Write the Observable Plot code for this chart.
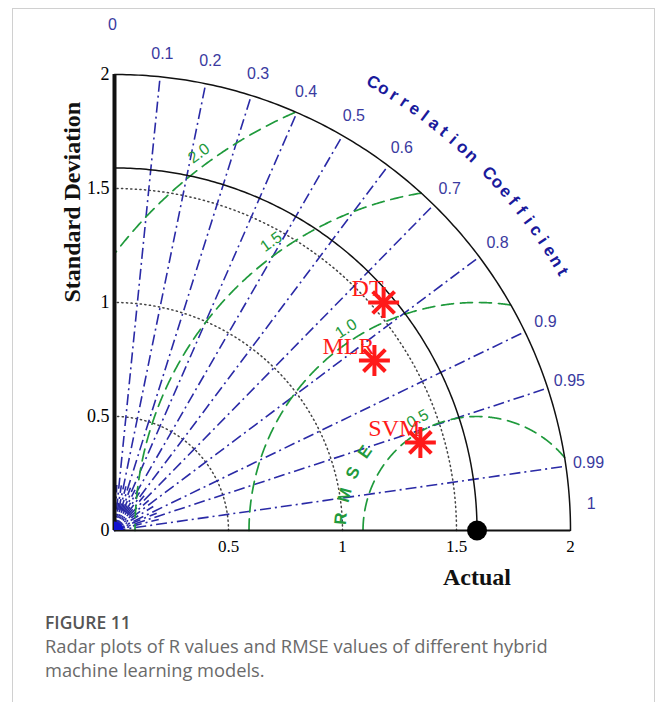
<!DOCTYPE html>
<html><head><meta charset="utf-8">
<script src="https://cdn.jsdelivr.net/npm/d3@7"></script>
<script src="https://cdn.jsdelivr.net/npm/@observablehq/plot@0.6"></script>
<style>
body{margin:0;background:#fff;width:656px;height:702px;overflow:hidden;position:relative;font-family:"Open Sans",sans-serif}
#frame{position:absolute;left:12px;top:8px;width:641px;height:720px;border:1.5px solid #d0d0d0;border-bottom:none;}
#chart{position:absolute;left:0;top:0}
#cap{position:absolute;left:45px;top:610px;width:600px;color:#6a6a6a;font-size:18.3px;line-height:24px}
#cap .fig{color:#555;font-weight:600;font-size:17.5px}
</style></head><body>
<div id="frame"></div>
<div id="chart"></div>
<div id="cap"><div class="fig">FIGURE 11</div><div>Radar plots of R values and RMSE values of different hybrid<br>machine learning models.</div></div>
<script>
// ---- data ----
const models = ["DT", "MLR", "SVM"];
const modelStd = [1.547, 1.362, 1.396];
const modelCorr = [0.763, 0.837, 0.961];
const refStd = 1.59;
const maxStd = 2;
const corrTicks = [0.1, 0.2, 0.3, 0.4, 0.5, 0.6, 0.7, 0.8, 0.9, 0.95, 0.99];
const corrTickLabels = ["0.1", "0.2", "0.3", "0.4", "0.5", "0.6", "0.7", "0.8", "0.9", "0.95", "0.99"];
const corrEnds = [0, 1];
const corrEndLabels = ["0", "1"];
const minorCorr = [0.05, 0.15, 0.25, 0.35, 0.45, 0.55, 0.65, 0.75, 0.85, 0.925, 0.97];
const stdTicks = [0, 0.5, 1, 1.5, 2];
const stdGrid = [0.5, 1, 1.5];
const rmseLevels = [0.5, 1.0, 1.5, 2.0];
const rmseLabels = ["0.5", "1.0", "1.5", "2.0"];
const corrTitle = "Correlation Coefficient";
const rmseTitle = "RMSE";

// ---- label placement (angles around the reference point, degrees) ----
const rmseLabelAngles = [118, 123, 125.5, 126.4];

// ---- geometry helpers ----
const rad = Math.PI / 180;
const sinOf = c => Math.sqrt(Math.max(0, 1 - c * c));
function arc(s) {
  return d3.range(0, 90.01, 0.5).map(a => ({s, x: s * Math.cos(a * rad), y: s * Math.sin(a * rad)}));
}
const stdArcPts = stdGrid.flatMap(arc);
const outerPts = arc(maxStd);
const refPts = arc(refStd);
const rmsePts = rmseLevels.flatMap(r => d3.range(0, 180.01, 0.2).map(a => ({r, x: refStd + r * Math.cos(a * rad), y: r * Math.sin(a * rad)}))
  .filter(p => p.x >= 0 && p.x * p.x + p.y * p.y <= maxStd * maxStd));
const rmseLab = rmseLevels.map((r, i) => { const a = rmseLabelAngles[i]; return {t: rmseLabels[i], x: refStd + (r + 0.055) * Math.cos(a * rad), y: (r + 0.055) * Math.sin(a * rad), rot: 90 - a}; });
const rmseLetters = rmseTitle.split("").map((ch, i) => { const a = 175 - i * 10; return {ch, x: refStd + 0.6 * Math.cos(a * rad), y: 0.6 * Math.sin(a * rad), rot: 90 - a}; });
const ccN = corrTitle.length;
const ccLetters = corrTitle.split("").map((ch, i) => { const a = 60 - i * 30 / (ccN - 1); return {ch, x: 2.27 * Math.cos(a * rad), y: 2.27 * Math.sin(a * rad), rot: 90 - a}; });
const corrLab = corrTicks.map((c, i) => ({t: corrTickLabels[i], x: 2.1 * c, y: 2.1 * sinOf(c)}));
const corrEndLab = corrEnds.map((c, i) => ({t: corrEndLabels[i], x: 2.1 * c, y: 2.1 * sinOf(c)}));
const pts = models.map((m, i) => ({m, x: modelStd[i] * modelCorr[i], y: modelStd[i] * sinOf(modelCorr[i])}));

const blue = "#2a2aa6", green = "#1f9a3c", red = "#ff1a1a";
const serif = "'Liberation Serif','DejaVu Serif',serif";
const sans = "'Liberation Sans',Arial,sans-serif";

const chart = Plot.plot({
  width: 656, height: 600,
  marginLeft: 114, marginRight: 86, marginTop: 74, marginBottom: 70,
  x: {domain: [0, 2]}, y: {domain: [0, 2]},
  style: {background: "transparent", overflow: "visible"},
  marks: [
    Plot.line(stdArcPts, {x: "x", y: "y", z: "s", stroke: "#444", strokeWidth: 1.5, strokeDasharray: "1.2,3.4"}),
    Plot.link(minorCorr, {x1: () => 0, y1: () => 0, x2: c => 0.2 * c, y2: c => 0.2 * sinOf(c), stroke: blue, strokeWidth: 1.6, strokeDasharray: "9,4,2,4"}),
    Plot.link(corrTicks, {x1: () => 0, y1: () => 0, x2: c => maxStd * c, y2: c => maxStd * sinOf(c), stroke: blue, strokeWidth: 1.6, strokeDasharray: "11,4,2,4"}),
    Plot.line(rmsePts, {x: "x", y: "y", z: "r", stroke: green, strokeWidth: 1.7, strokeDasharray: "12,7"}),
    Plot.line(outerPts, {x: "x", y: "y", stroke: "#111", strokeWidth: 1.5}),
    Plot.line(refPts, {x: "x", y: "y", stroke: "#111", strokeWidth: 1.5}),
    Plot.ruleY([0], {x1: 0, x2: maxStd, stroke: "#111", strokeWidth: 2}),
    Plot.ruleX([0], {y1: 0, y2: maxStd, stroke: "#111", strokeWidth: 4}),
    Plot.dot([0], {x: () => 0, y: () => 0, r: 9, fill: "#1010d0", clip: true}),
    Plot.text(rmseLab, {x: "x", y: "y", text: "t", rotate: "rot", fill: green, fontSize: 16, fontFamily: sans}),
    Plot.text(rmseLetters, {x: "x", y: "y", text: "ch", rotate: "rot", fill: green, fontSize: 17, fontWeight: "bold", fontFamily: sans}),
    Plot.text(corrLab, {x: "x", y: "y", text: "t", fill: "#3a3aa0", fontSize: 16, fontFamily: sans}),
    Plot.text(corrEndLab, {x: "x", y: "y", text: "t", fill: "#3a3aa0", fontSize: 16, fontFamily: sans, dy: -27, dx: -2}),
    Plot.text(ccLetters, {x: "x", y: "y", text: "ch", rotate: "rot", fill: "#1a1a9c", fontSize: 17, fontWeight: "bold", fontFamily: sans}),
    Plot.axisY({ticks: stdTicks, tickSize: 0, tickPadding: 5, label: null, fontSize: 18, fontFamily: serif, tickFormat: d => String(d)}),
    Plot.axisX({ticks: stdTicks.slice(1), tickSize: 0, tickPadding: 9, label: null, fontSize: 17, fontFamily: serif, tickFormat: d => String(d)}),
    Plot.dot([refStd], {x: d => d, y: () => 0, r: 10, fill: "#000"}),
    Plot.dot(pts, {x: "x", y: "y", symbol: "plus", r: 10, stroke: red, strokeWidth: 4}),
    Plot.dot(pts, {x: "x", y: "y", symbol: "times", r: 10, stroke: red, strokeWidth: 4}),
    Plot.text(pts, {x: "x", y: "y", text: "m", fill: red, fontSize: 24, fontFamily: serif, textAnchor: "end", dy: -14, dx: 0}),
    Plot.text([refStd], {x: d => d, y: () => 0, text: () => "Actual", dy: 47, fontSize: 24, fontWeight: "bold", fontFamily: serif, fill: "#111"}),
    Plot.text(["Standard Deviation"], {frameAnchor: "left", text: d => d, rotate: -90, dx: -42, fontSize: 24, fontWeight: "bold", fontFamily: serif, fill: "#111"})
  ]
});
document.getElementById("chart").appendChild(chart);
</script>
</body></html>
